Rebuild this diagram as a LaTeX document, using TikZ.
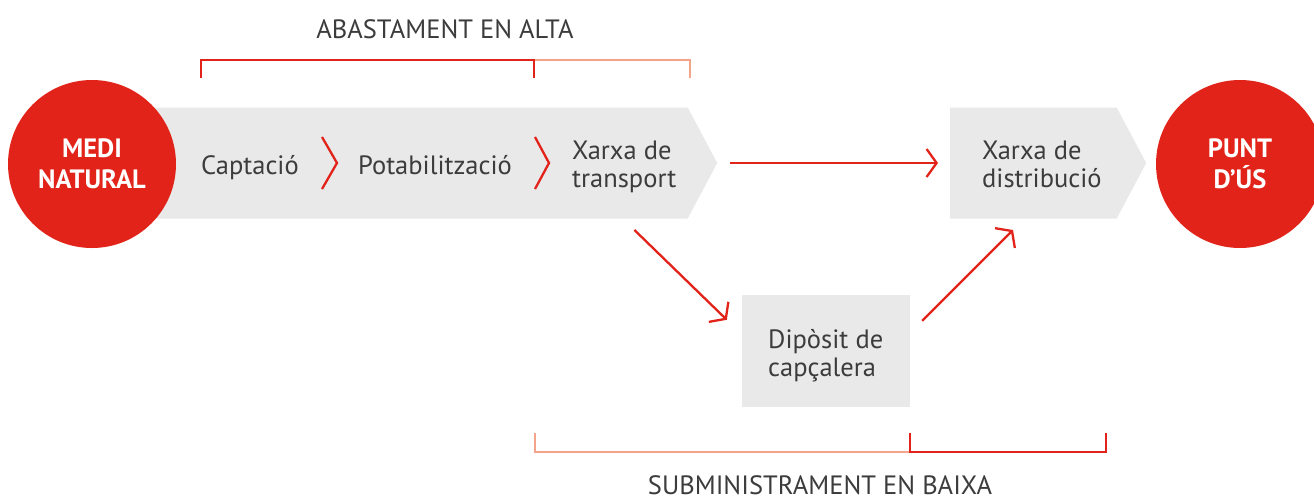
\documentclass[tikz,border=0pt]{standalone}
\usepackage{fontspec}
\setmainfont{PT Sans}
\usetikzlibrary{arrows.meta,shapes.symbols,calc}
\definecolor{cred}{HTML}{E2231A}
\definecolor{csalmon}{HTML}{F4A48B}
\definecolor{cband}{HTML}{E9E9E9}
\definecolor{ctext}{HTML}{3C3C3C}
\begin{document}
\begin{tikzpicture}[x=1pt,y=-1pt,
  every node/.style={font=\fontsize{26.5}{28.5}\selectfont, text=ctext},
  band/.style={signal, signal to=east, signal pointer angle=124, fill=cband, inner sep=0pt, minimum height=111pt},
  disc/.style={circle, fill=cred, inner sep=0pt, minimum size=168pt, text=white, font=\bfseries\fontsize{26.5}{31}\selectfont, align=center},
  txt/.style={align=left, anchor=base west, inner sep=0pt},
  ctr/.style={anchor=base, inner sep=0pt},
  chev/.style={draw=cred, line width=2.3pt},
  arr/.style={draw=cred, line width=2.3pt, -{Straight Barb[length=10pt,width=28pt]}},
  brkred/.style={draw=cred, line width=2.3pt},
  brksal/.style={draw=csalmon, line width=2.3pt},
]
\useasboundingbox[fill=white] (0,0) rectangle (1314,499);

% shapes
\node[band, minimum width=567pt, anchor=west] (alta) at (150,163) {};
\node[band, minimum width=196pt, anchor=west] (dist) at (950,163) {};
\node[fill=cband, minimum width=168pt, minimum height=112pt, inner sep=0pt] (dep) at (826,351) {};
\node[disc] (medi) at (92,164) {MEDI\\NATURAL};
\node[disc] (punt) at (1240,164) {PUNT\\D’ÚS};

% texts
\node[ctr] (capt) at (250,174) {Captació};
\node[ctr] (pota) at (435,174) {Potabilització};
\node[txt] (xt) at (572,187.5) {Xarxa de\\transport};
\node[txt] (xd) at (982,187.5) {Xarxa de\\distribució};
\node[txt] (dt) at (768,376.5) {Dipòsit de\\capçalera};
\node[ctr] (alt) at (445,38) {ABASTAMENT EN ALTA};
\node[ctr] (bai) at (820,494) {SUBMINISTRAMENT EN BAIXA};

% chevrons
\draw[chev] (322,137) -- (337,163) -- (322,189);
\draw[chev] (535,137) -- (549,163) -- (535,189);

% connectors
\draw[arr, shorten <=13pt, shorten >=12pt] (alta.east) -- (dist.west);
\draw[arr] ($(alta.east)+(-83,67)$) -- ($(dep.north west)+(-15,25)$);
\draw[arr] ($(dep.north east)+(12,26)$) -- ($(dist.west)+(63,67)$);

% brackets
\draw[brksal] (534,60) -- (690,60) -- (690,78);
\draw[brkred] (201,78) -- (201,60) -- (534,60) -- (534,78);
\draw[brksal] (535,433) -- (535,452) -- (910,452);
\draw[brkred] (910,433) -- (910,452) -- (1106,452) -- (1106,433);
\end{tikzpicture}
\end{document}
